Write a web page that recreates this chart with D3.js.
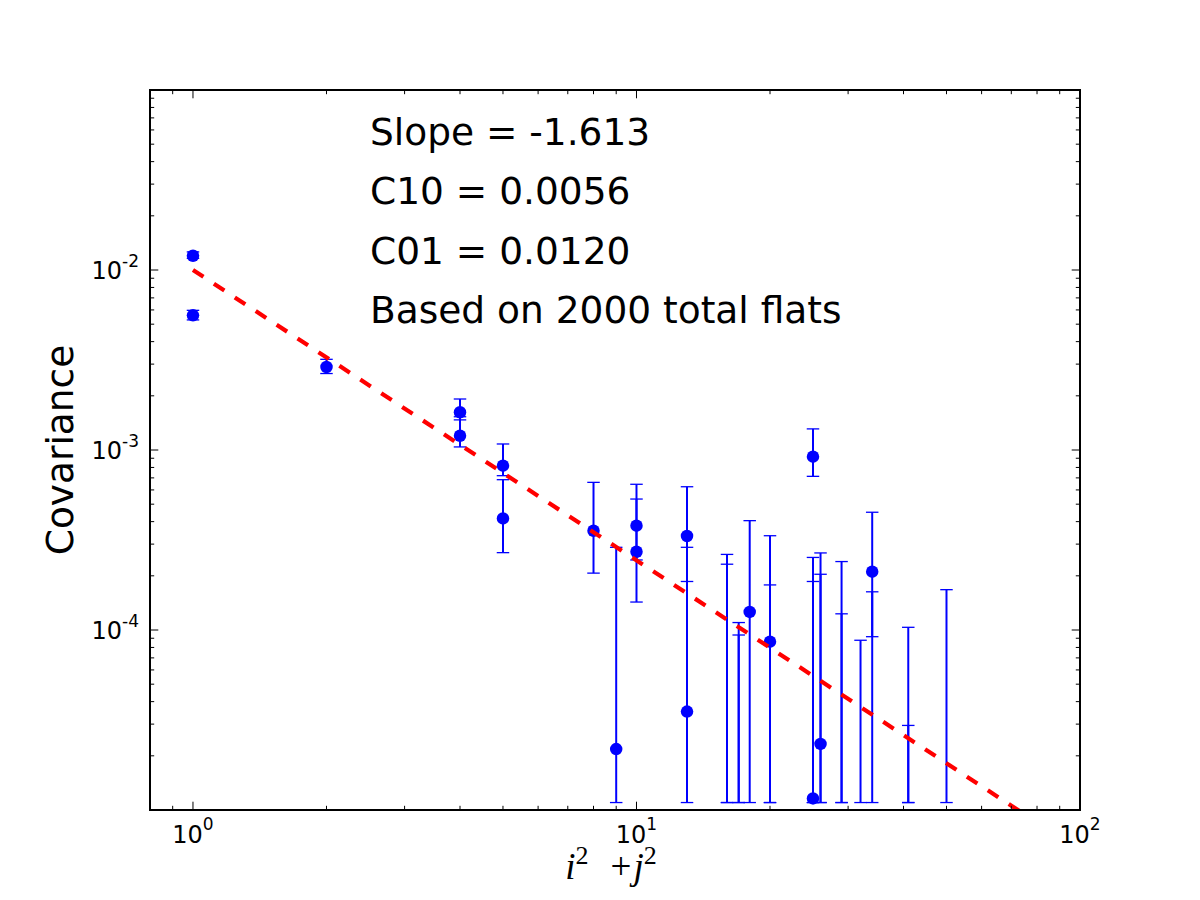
<!DOCTYPE html>
<html>
<head>
<meta charset="utf-8">
<script src="https://cdn.jsdelivr.net/npm/d3@7"></script>
<style>
  body { margin: 0; background: #fff; }
  text { font-family: "DejaVu Sans", sans-serif; fill: #000; }
</style>
</head>
<body>
<svg id="chart"></svg>
<script>
// measured covariances at i^2 + j^2 (only the positive ones get a marker)
const markerX = [1, 1, 2, 4, 4, 5, 5, 8, 9, 10, 10, 13, 13, 18, 20, 25, 25, 26, 34];
const markerY = [1.20e-2, 5.60e-3, 2.89e-3, 1.62e-3, 1.20e-3, 8.18e-4, 4.17e-4, 3.56e-4, 2.18e-5,
                 3.80e-4, 2.72e-4, 3.33e-4, 3.52e-5, 1.26e-4, 8.61e-5, 9.18e-4, 1.16e-5, 2.33e-5, 2.11e-4];

// error bars, lower end clipped at 1.1e-5 for the negative / small ones
const barX  = [1, 1, 2, 4, 4, 5, 5, 8, 9, 10, 10, 13, 13, 16, 16, 17, 17, 18, 20, 20,
               25, 25, 25, 26, 26, 29, 29, 32, 34, 34, 41, 41, 50];
const barLo = [1.16e-2, 5.28e-3, 2.66e-3, 1.47e-3, 1.04e-3, 7.20e-4, 2.69e-4, 2.07e-4, 1.1e-5, 2.45e-4, 1.43e-4, 1.86e-4, 1.1e-5,
               1.1e-5, 1.1e-5, 1.1e-5, 1.1e-5, 1.1e-5, 1.1e-5, 1.1e-5,
               7.14e-4, 1.1e-5, 1.1e-5, 1.1e-5, 1.1e-5, 1.1e-5, 1.1e-5, 1.1e-5, 9.18e-5, 1.1e-5, 1.1e-5, 1.1e-5, 1.1e-5];
const barHi = [1.26e-2, 5.97e-3, 3.19e-3, 1.92e-3, 1.53e-3, 1.08e-3, 6.84e-4, 6.61e-4, 2.88e-4, 6.45e-4, 5.34e-4, 6.25e-4, 2.88e-4,
               2.63e-4, 2.32e-4, 1.10e-4, 9.38e-5, 4.05e-4, 3.34e-4, 1.78e-4,
               1.31e-3, 2.53e-4, 1.86e-4, 2.68e-4, 2.04e-4, 2.40e-4, 1.23e-4, 8.77e-5, 4.51e-4, 1.63e-4, 1.035e-4, 2.95e-5, 1.675e-4];

// power law fit
const fitSlope = -1.613;
const fitAmp = 0.01;
const fitRange = [1, 100];

const notes = ['Slope = -1.613', 'C10 = 0.0056', 'C01 = 0.0120', 'Based on 2000 total flats'];

const config = {
    width: 1200, height: 900,
    margin: {top: 90, right: 120, bottom: 90, left: 150}
};

const width = config.width - config.margin.left - config.margin.right;
const height = config.height - config.margin.top - config.margin.bottom;

const svg = d3.select('#chart')
    .attr('width', config.width)
    .attr('height', config.height);

const chart = svg.append('g')
    .attr('transform', `translate(${config.margin.left},${config.margin.top})`);

const xScale = d3.scaleLog().domain([0.8, 100]).range([0, width]);
const yScale = d3.scaleLog().domain([1e-5, 1e-1]).range([height, 0]);

svg.append('defs').append('clipPath').attr('id', 'plotClip')
  .append('rect').attr('width', width).attr('height', height);

const plot = chart.append('g').attr('clip-path', 'url(#plotClip)');

// error bars
const bars = barX.map((x, i) => ({x: x, lo: barLo[i], hi: barHi[i]}));
plot.selectAll('.ebar')
    .data(bars)
    .join('line')
    .attr('class', 'ebar')
    .attr('x1', d => xScale(d.x)).attr('x2', d => xScale(d.x))
    .attr('y1', d => yScale(d.lo)).attr('y2', d => yScale(d.hi))
    .attr('stroke', '#0000ff')
    .attr('stroke-width', 2);

const caps = [];
bars.forEach(d => { caps.push({x: d.x, v: d.lo}); caps.push({x: d.x, v: d.hi}); });
plot.selectAll('.cap')
    .data(caps)
    .join('line')
    .attr('class', 'cap')
    .attr('x1', d => xScale(d.x) - 6.25).attr('x2', d => xScale(d.x) + 6.25)
    .attr('y1', d => yScale(d.v)).attr('y2', d => yScale(d.v))
    .attr('stroke', '#0000ff')
    .attr('stroke-width', 1.3);

// markers
plot.selectAll('.pt')
    .data(markerX.map((x, i) => ({x: x, y: markerY[i]})))
    .join('circle')
    .attr('class', 'pt')
    .attr('cx', d => xScale(d.x))
    .attr('cy', d => yScale(d.y))
    .attr('r', 6.25)
    .attr('fill', '#0000ff');

// fit line
const fitLine = d3.line()
    .x(d => xScale(d))
    .y(d => yScale(fitAmp * Math.pow(d, fitSlope)));
plot.append('path')
    .datum(fitRange)
    .attr('d', fitLine)
    .attr('fill', 'none')
    .attr('stroke', '#ff0000')
    .attr('stroke-width', 4.2)
    .attr('stroke-dasharray', '12.5,12.5');

// ticks, inside, on all four sides
const isMajor = v => Math.abs(Math.log10(v) - Math.round(Math.log10(v))) < 1e-9;
const xt = xScale.ticks().filter(v => v > 0.8 && v < 100);
const yt = yScale.ticks().filter(v => v > 1e-5 && v < 1e-1);
const tickG = chart.append('g').attr('stroke', '#000').attr('stroke-width', 1);
xt.forEach(v => {
    const len = isMajor(v) ? 8.3 : 4.2;
    const x = xScale(v);
    tickG.append('line').attr('x1', x).attr('x2', x).attr('y1', height).attr('y2', height - len);
    tickG.append('line').attr('x1', x).attr('x2', x).attr('y1', 0).attr('y2', len);
});
yt.forEach(v => {
    const len = isMajor(v) ? 8.3 : 4.2;
    const y = yScale(v);
    tickG.append('line').attr('y1', y).attr('y2', y).attr('x1', 0).attr('x2', len);
    tickG.append('line').attr('y1', y).attr('y2', y).attr('x1', width).attr('x2', width - len);
});

// frame
chart.append('rect')
    .attr('width', width).attr('height', height)
    .attr('fill', 'none').attr('stroke', '#000').attr('stroke-width', 2);

// tick labels: 10^n
[1, 10, 100].forEach(v => {
    const t = chart.append('text')
        .attr('x', xScale(v)).attr('y', height + 33)
        .attr('text-anchor', 'middle')
        .style('font-size', '24px');
    t.append('tspan').text('10');
    t.append('tspan').attr('dy', -13).style('font-size', '17px').text(Math.round(Math.log10(v)));
});
[1e-4, 1e-3, 1e-2].forEach(v => {
    const t = chart.append('text')
        .attr('x', -11).attr('y', yScale(v) + 9)
        .attr('text-anchor', 'end')
        .style('font-size', '24px');
    t.append('tspan').text('10');
    t.append('tspan').attr('dy', -12).style('font-size', '17px').text('-' + Math.round(-Math.log10(v)));
});

// axis titles
svg.append('text')
    .attr('transform', `translate(73,${config.margin.top + height / 2}) rotate(-90)`)
    .attr('text-anchor', 'middle')
    .style('font-size', '37.5px')
    .text('Covariance');

const xl = svg.append('text')
    .attr('x', config.margin.left + width / 2 - 4).attr('y', 879)
    .attr('text-anchor', 'middle')
    .style('font-family', '"Liberation Serif", serif')
    .style('font-size', '37px');
xl.append('tspan').style('font-style', 'italic').text('i');
xl.append('tspan').attr('dy', -15).style('font-size', '26px').text('2');
xl.append('tspan').attr('dy', 15).attr('dx', 22).text('+');
xl.append('tspan').attr('dx', 2).style('font-style', 'italic').text('j');
xl.append('tspan').attr('dy', -15).style('font-size', '26px').text('2');

// annotation block
chart.selectAll('.note')
    .data(notes)
    .join('text')
    .attr('class', 'note')
    .attr('x', 370 - config.margin.left)
    .attr('y', (d, i) => 144.5 - config.margin.top + i * 59.6)
    .style('font-size', '37.5px')
    .text(d => d);
</script>
</body>
</html>
